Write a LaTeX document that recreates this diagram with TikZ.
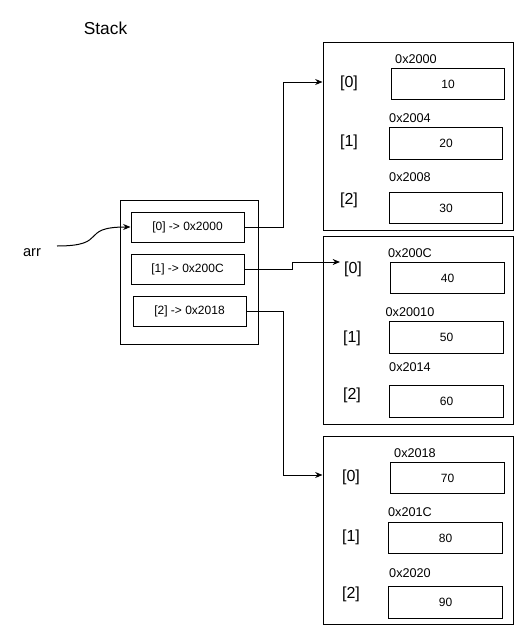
\documentclass[tikz,border=0pt]{standalone}
\usepackage{fontspec}
\setmainfont{Liberation Sans}
\usetikzlibrary{arrows.meta}

\tikzstyle{frame} = [draw, minimum width=142.5pt, minimum height=141pt, inner sep=0pt]
\tikzstyle{ptr} = [draw, minimum width=84.75pt, minimum height=22.5pt, inner sep=0pt, font=\fontsize{9}{11}\selectfont]
\tikzstyle{cell} = [draw, minimum width=85pt, minimum height=23.5pt, inner sep=0pt, font=\fontsize{9}{11}\selectfont]
\tikzstyle{addr} = [inner sep=0pt, font=\fontsize{9.5}{11}\selectfont]
\tikzstyle{idx} = [inner sep=0pt, font=\fontsize{12}{14}\selectfont]
\tikzstyle{link} = [-{Stealth[length=5.5pt, width=4.5pt]}]

\begin{document}
\begin{tikzpicture}[x=0.75pt, y=-0.75pt, line width=0.75pt]
\useasboundingbox (0,0) rectangle (523,632);

% stack side
\node[font=\fontsize{13}{15}\selectfont] (title) at (105.5,28) {Stack};
\node[draw, minimum width=103.5pt, minimum height=108pt] (stack) at (189,272) {};
\node[ptr] (b0) at (187.5,227) {[0] -> 0x2000};
\node[ptr] (b1) at (187.5,269) {[1] -> 0x200C};
\node[ptr] (b2) at (189.5,311) {[2] -> 0x2018};
\node[font=\fontsize{11}{13}\selectfont] (arr) at (32,253) {arr};
\coordinate (a0) at (57,246);

% first array
\node[frame] (p1) at (418,136) {};
\node[addr] (a10) at (416,59) {0x2000};
\node[idx] (i10) at (349,83) {[0]};
\node[cell] (c10) at (448,84) {10};
\node[addr] (a11) at (410,118) {0x2004};
\node[idx] (i11) at (349,142) {[1]};
\node[cell] (c11) at (446,143.5) {20};
\node[addr] (a12) at (410,177) {0x2008};
\node[idx] (i12) at (349,200) {[2]};
\node[cell] (c12) at (446,208) {30};

% second array
\node[frame] (p2) at (418,330.5) {};
\node[addr] (a20) at (410,253) {0x200C};
\node[idx] (i20) at (353,269) {[0]};
\node[cell] (c20) at (447.5,278) {40};
\node[addr] (a21) at (410,312) {0x20010};
\node[idx] (i21) at (352,338) {[1]};
\node[cell] (c21) at (446.5,337.5) {50};
\node[addr] (a22) at (410,367) {0x2014};
\node[idx] (i22) at (352,395) {[2]};
\node[cell] (c22) at (446.5,401.5) {60};
\coordinate (t2) at (340,262);

% third array
\node[frame] (p3) at (418,530) {};
\node[addr] (a30) at (415,453) {0x2018};
\node[idx] (i30) at (351,477) {[0]};
\node[cell] (c30) at (447.5,478) {70};
\node[addr] (a31) at (410,512) {0x201C};
\node[idx] (i31) at (351,537) {[1]};
\node[cell] (c31) at (445.5,538) {80};
\node[addr] (a32) at (410,573) {0x2020};
\node[idx] (i32) at (351,594) {[2]};
\node[cell] (c32) at (445.5,602.5) {90};

% pointers
\draw[link] (a0) .. controls (110,246) and (78,227) .. (b0.west);
\draw[link] (b0.east) -- ++(39,0) |- ([yshift=0.75pt]p1.west |- i10);
\draw[link] (b1.east) -- ++(48,0) |- (t2);
\draw[link] (b2.east) -- ++(37,0) |- ([yshift=1.5pt]p3.west |- i30);
\end{tikzpicture}
\end{document}
